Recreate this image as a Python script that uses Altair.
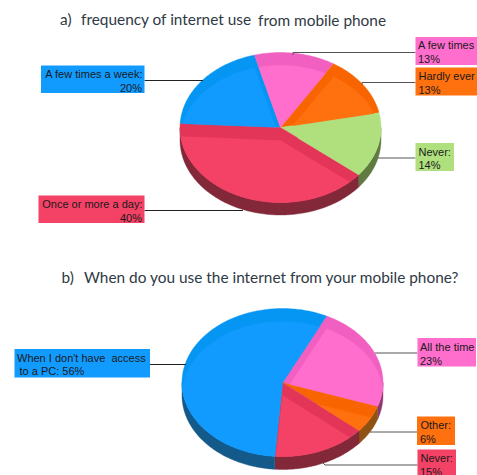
import math
import numpy as np
import pandas as pd
import altair as alt

# Survey results (percent of respondents)
freq_names = ["A few times a week", "A few times", "Hardly ever", "Never", "Once or more a day"]
freq_shares = [20, 13, 13, 14, 40]
when_names = ["All the time", "Other", "Never", "When I don't have access to a PC"]
when_shares = [23, 6, 15, 56]

# Fill of each slice: face, rim band of the face, side wall
PALETTE = {
    "blue": ("#119bff", "#0595f2", "#13598a"),
    "pink": ("#ff6ecd", "#f160c0", "#8a3a70"),
    "orange": ("#ff700e", "#f86500", "#8e5212"),
    "green": ("#b0e07e", "#b0e07e", "#5f7b42"),
    "red": ("#f44166", "#e33558", "#832839"),
}
freq_colors = ["blue", "pink", "orange", "green", "red"]
when_colors = ["pink", "orange", "red", "blue"]

W, H = 477, 475


def clip_convex(subject, clip):
    """Sutherland-Hodgman clipping of a polygon against a convex polygon."""
    xs, ys = zip(*clip)
    area = sum(xs[i] * ys[(i + 1) % len(xs)] - xs[(i + 1) % len(xs)] * ys[i] for i in range(len(xs)))
    sign = 1 if area > 0 else -1
    out = list(subject)
    for i in range(len(clip)):
        a, b = clip[i], clip[(i + 1) % len(clip)]
        if not out:
            break

        def side(p):
            return sign * ((b[0] - a[0]) * (p[1] - a[1]) - (b[1] - a[1]) * (p[0] - a[0]))

        kept = []
        for j in range(len(out)):
            p, q = out[j], out[(j + 1) % len(out)]
            sp, sq = side(p), side(q)
            if sp >= 0:
                kept.append(p)
            if sp * sq < 0:
                u = sp / (sp - sq)
                kept.append((p[0] + u * (q[0] - p[0]), p[1] + u * (q[1] - p[1])))
        out = kept
    return out


def closed(points):
    pts = [[float(x), float(y)] for x, y in points]
    return pts + [pts[0]]


def pie_features(shares, colors, start, cx, cy, rx, ry, depth, band):
    """Flatten a tilted pie into polygons: side walls, then faces, then lit areas."""

    def arc(a0, a1, dy=0.0):
        n = max(2, int(abs(a1 - a0)) + 1)
        t = np.radians(np.linspace(a0, a1, n))
        return list(zip(cx + rx * np.sin(t), cy + dy - ry * np.cos(t)))

    def sector(a0, a1, dy=0.0):
        return [(cx, cy + dy)] + arc(a0, a1, dy)

    walls, faces, lit = [], [], []
    angle = start
    for share, name in zip(shares, colors):
        a0, a1 = angle, angle + share * 3.6
        angle = a1
        face, rim, wall = PALETTE[name]
        # The wall shows only along the front half of the ellipse
        for lo, hi in ((90, 270), (450, 630)):
            w0, w1 = max(a0, lo), min(a1, hi)
            if w1 > w0:
                ring = arc(w0, w1) + arc(w1, w0, depth)
                walls.append((closed(ring), wall))
        faces.append((closed(sector(a0, a1)), rim))
        # Lit area: the slice overlapped with itself moved down by the band width
        mid = (a0 + a1) / 2
        parts = [(a0, a1)] if a1 - a0 <= 175 else [(a0, mid), (mid, a1)]
        for p in parts:
            for q in parts:
                shape = clip_convex(sector(*p), sector(*q, dy=band))
                if len(shape) >= 3:
                    lit.append((closed(shape), face))
    return walls + faces + lit


shapes = pie_features(freq_shares, freq_colors, -87, 280.5, 127.5, 100.5, 75, 12.5, 13)
shapes += pie_features(when_shares, when_colors, 26, 282.5, 382.5, 100.5, 74, 13, 13)
features = [
    {"type": "Feature", "properties": {"fill": fill},
     "geometry": {"type": "Polygon", "coordinates": [ring]}}
    for ring, fill in shapes
]

pies = alt.Chart(
    alt.InlineData(values={"type": "FeatureCollection", "features": features},
                   format=alt.DataFormat(property="features", type="json"))
).mark_geoshape(strokeWidth=0.4).encode(
    fill=alt.Fill("properties.fill:N", scale=None),
    stroke=alt.Stroke("properties.fill:N", scale=None),
).project(type="identity", scale=1, translate=[0, 0])

x_scale = alt.Scale(domain=[0, W], nice=False, zero=False)
y_scale = alt.Scale(domain=[H, 0], nice=False, zero=False)
X = alt.X("x:Q", scale=x_scale, axis=None)
Y = alt.Y("y:Q", scale=y_scale, axis=None)

# Callout boxes: left, top, right, bottom, colour
boxes = pd.DataFrame(
    [
        (41, 65.5, 144.5, 93, "blue"),
        (38.5, 195.5, 144.5, 223, "red"),
        (415.5, 37, 477, 65, "pink"),
        (415.5, 67.5, 477, 95.5, "orange"),
        (415.5, 143, 454, 171, "green"),
        (14.5, 349, 150, 377.5, "blue"),
        (417.5, 338, 476, 366.5, "pink"),
        (417, 416.5, 455, 445, "orange"),
        (417.5, 449.5, 456, 478, "red"),
    ],
    columns=["x", "y", "x2", "y2", "name"],
)
boxes["fill"] = boxes["name"].map(lambda n: PALETTE[n][0])
box_layer = alt.Chart(boxes).mark_rect(opacity=1).encode(
    x=X, y=Y, x2="x2:Q", y2="y2:Q", fill=alt.Fill("fill:N", scale=None)
)

# Leader lines from slices to their boxes
leaders = pd.DataFrame(
    [
        (144.5, 80.5, 203, 80.5, "#222222"),
        (144.5, 210.5, 243, 210.5, "#222222"),
        (293, 52.5, 415.5, 52.5, "#555555"),
        (362, 82.5, 415.5, 82.5, "#555555"),
        (378, 158, 415.5, 158, "#555555"),
        (150, 364.5, 186, 364.5, "#222222"),
        (375, 353, 417.5, 353, "#555555"),
        (370, 432, 417, 432, "#555555"),
        (325, 465, 417.5, 465, "#555555"),
        (293, 52.5, 293, 55, "#555555"),
        (362, 82.5, 362, 84.5, "#555555"),
        (322, 462, 325, 465, "#555555"),
    ],
    columns=["x", "y", "x2", "y2", "stroke"],
)
leader_layer = alt.Chart(leaders).mark_rule(strokeWidth=1).encode(
    x=X, y=Y, x2="x2:Q", y2="y2:Q", stroke=alt.Stroke("stroke:N", scale=None)
)

# Callout text, two lines per box
callouts = pd.DataFrame(
    [
        (142.5, 78, f"{freq_names[0]}:", "right"),
        (142, 92, f"{freq_shares[0]}%", "right"),
        (142.5, 208, f"{freq_names[4]}:", "right"),
        (142, 222, f"{freq_shares[4]}%", "right"),
        (418, 49, f"{freq_names[1]}", "left"),
        (418, 63, f"{freq_shares[1]}%", "left"),
        (418.5, 80, f"{freq_names[2]}", "left"),
        (418.5, 94, f"{freq_shares[2]}%", "left"),
        (418.5, 155.5, f"{freq_names[3]}:", "left"),
        (418.5, 169, f"{freq_shares[3]}%", "left"),
        (17, 362, "When I don't have\u00a0 access", "left"),
        (19.5, 375, f" to a PC: {when_shares[3]}%", "left"),
        (420, 350.5, f"{when_names[0]}", "left"),
        (420, 364.5, f"{when_shares[0]}%", "left"),
        (420.5, 429, f"{when_names[1]}:", "left"),
        (420, 443, f"{when_shares[1]}%", "left"),
        (420.5, 462, f"{when_names[2]}:", "left"),
        (420, 476, f"{when_shares[2]}%", "left"),
    ],
    columns=["x", "y", "label", "align"],
)


def text_layer(frame, align, **style):
    return alt.Chart(frame[frame["align"] == align]).mark_text(
        align=align, baseline="alphabetic", **style
    ).encode(x=X, y=Y, text="label:N")


callout_style = dict(font="Liberation Sans", fontSize=11, color="#1a1a1a")

headings = pd.DataFrame(
    [
        (60, 25, "a)"),
        (81, 25, "frequency of internet use"),
        (258, 26, "from mobile phone"),
        (61.5, 283, "b)"),
        (84, 283, "When do you use the internet from your mobile phone?"),
    ],
    columns=["x", "y", "label"],
)
heading_layer = alt.Chart(headings).mark_text(
    align="left", baseline="alphabetic", font="Lato", fontSize=15.4, color="#2f3a45"
).encode(x=X, y=Y, text="label:N")

chart = alt.layer(
    pies,
    leader_layer,
    box_layer,
    text_layer(callouts, "left", **callout_style),
    text_layer(callouts, "right", **callout_style),
    heading_layer,
).properties(
    width=W, height=H, padding=0, autosize=alt.AutoSizeParams(type="none"),
    background="white",
).configure_view(stroke=None)

chart.save("out.html", embed_options={"renderer": "svg", "actions": False})
